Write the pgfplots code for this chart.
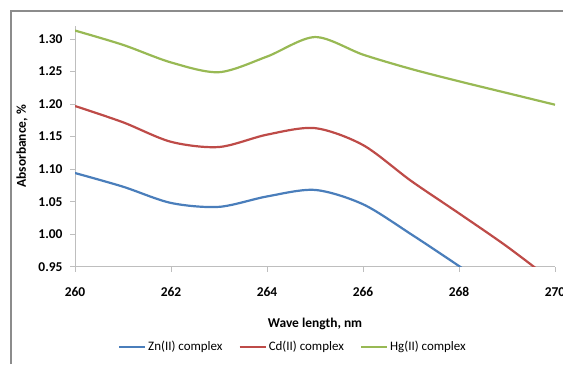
\documentclass[border=0pt]{standalone}
\usepackage{fontspec}
\setmainfont{Carlito}
\usepackage{pgfplots}
\pgfplotsset{compat=1.18}
\definecolor{zn}{RGB}{74,126,187}
\definecolor{cd}{RGB}{190,75,72}
\definecolor{hg}{RGB}{152,185,84}
\definecolor{axgray}{RGB}{190,190,190}
\definecolor{framegray}{RGB}{140,140,140}
\begin{document}
\begin{tikzpicture}[x=1bp,y=1bp]
\useasboundingbox (0,0) rectangle (563,364);
\draw[framegray, line width=1.3bp] (11,0) -- (11,353) -- (563,353);
\begin{axis}[
  at={(75bp,97.3bp)}, anchor=south west,
  scale only axis, width=480bp, height=240.7bp,
  xmin=260, xmax=270, ymin=0.95, ymax=1.32,
  xtick={260,262,264,266,268,270},
  ytick={0.95,1.00,1.05,1.10,1.15,1.20,1.25,1.30},
  axis x line=bottom, axis y line=left,
  axis line style={draw=axgray, line width=0.9bp, -},
  tick style={draw=axgray, line width=0.9bp},
  tick align=outside, major tick length=5bp,
  /pgf/number format/assume math mode=true,
  yticklabel style={/pgf/number format/.cd, fixed, fixed zerofill, precision=2, /tikz/.cd, font=\fontsize{13.5}{16}\selectfont\bfseries, xshift=-4bp},
  xticklabel style={/pgf/number format/.cd, 1000 sep={}, /tikz/.cd, font=\fontsize{13.5}{16}\selectfont\bfseries, yshift=-12bp},
  xlabel={Wave length, nm},
  xlabel style={font=\fontsize{13.5}{16}\selectfont\bfseries, at={(axis description cs:0.5,0)}, anchor=center, yshift=-57.3bp},
  ylabel={Absorbance, \%},
  ylabel style={font=\fontsize{13.5}{16}\selectfont\bfseries, at={(axis description cs:-0.1104,0.5)}, anchor=center},
  legend columns=3,
  legend style={draw=none, fill=none, at={(axis description cs:0.454,-0.3336)}, anchor=center,
    font=\fontsize{13}{15}\selectfont, /tikz/every even column/.append style={column sep=14bp}},
  legend image code/.code={\draw[#1] (0bp,0bp) -- (26bp,0bp);},
  every axis plot/.append style={line width=2.2bp, smooth, tension=0.5},
  clip=true,
]
\addplot[zn] coordinates {(260,1.094) (261,1.073) (262,1.048) (263,1.042) (264,1.058) (265,1.068) (266,1.046) (267,1.000) (268,0.951) (269,0.900) (270,0.850)};
\addlegendentry{Zn(II) complex}
\addplot[cd] coordinates {(260,1.197) (261,1.172) (262,1.142) (263,1.134) (264,1.153) (265,1.163) (266,1.137) (267,1.082) (268,1.032) (269,0.981) (270,0.925)};
\addlegendentry{Cd(II) complex}
\addplot[hg] coordinates {(260,1.313) (261,1.291) (262,1.264) (263,1.249) (264,1.273) (265,1.303) (266,1.276) (267,1.254) (268,1.235) (269,1.217) (270,1.199)};
\addlegendentry{Hg(II) complex}
\end{axis}
\end{tikzpicture}
\end{document}
